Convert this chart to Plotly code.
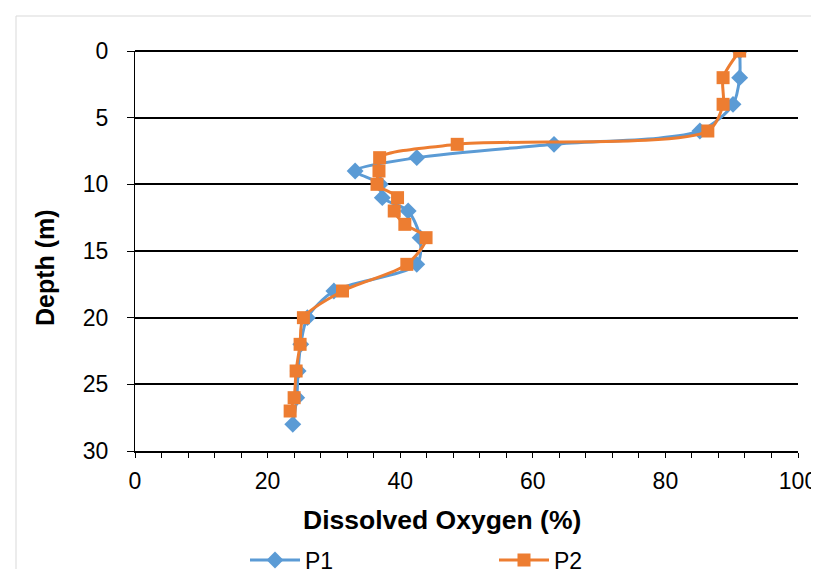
import plotly.graph_objects as go

# P1 profile
p1_depth = [0, 2, 4, 6, 7, 8, 9, 10, 11, 12, 14, 16, 18, 20, 22, 24, 26, 28]
p1_do = [91.2, 91.2, 90.2, 85.2, 63.2, 42.5, 33.2, 37.0, 37.3, 41.2, 43.0, 42.5, 30.0, 26.0, 25.0, 24.6, 24.4, 23.8]

# P2 profile
p2_depth = [0, 2, 4, 6, 7, 8, 9, 10, 11, 12, 13, 14, 16, 18, 20, 22, 24, 26, 27]
p2_do = [91.2, 88.7, 88.7, 86.4, 48.6, 36.9, 36.8, 36.5, 39.6, 39.1, 40.7, 43.9, 41.0, 31.3, 25.4, 24.9, 24.3, 24.0, 23.4]

x_ticks = [0, 20, 40, 60, 80, 100]
y_ticks = [0, 5, 10, 15, 20, 25, 30]

FONT = "Liberation Sans, Arial, sans-serif"

W, H = 811, 561
L, R, T, B = 127, 21, 43, 118
PW, PH = W - L - R, H - T - B


def px(xf):
    return (xf - L) / PW


def py(yf):
    return (T + PH - yf) / PH


fig = go.Figure()
fig.add_trace(go.Scatter(
    x=p1_do, y=p1_depth, name="P1", mode="lines+markers",
    line=dict(color="#5B9BD5", width=3, shape="spline", smoothing=0.8),
    marker=dict(symbol="diamond", size=13, color="#5B9BD5"),
))
fig.add_trace(go.Scatter(
    x=p2_do, y=p2_depth, name="P2", mode="lines+markers",
    line=dict(color="#ED7D31", width=3, shape="spline", smoothing=0.8),
    marker=dict(symbol="square", size=13, color="#ED7D31"),
))

fig.update_layout(
    width=W, height=H,
    margin=dict(l=L, r=R, t=T, b=B, autoexpand=False),
    paper_bgcolor="white", plot_bgcolor="white",
    font=dict(family=FONT, size=23, color="#000"),
    showlegend=True,
    legend=dict(
        orientation="h", x=px(237), xanchor="left", y=py(552), yanchor="middle",
        entrywidth=184, entrywidthmode="pixels", itemwidth=50,
        font=dict(size=23, color="#000"), bgcolor="rgba(0,0,0,0)",
    ),
    xaxis=dict(
        range=[0, 100], tickvals=x_ticks, ticktext=[str(v) for v in x_ticks],
        showgrid=False, zeroline=False,
        showline=True, linecolor="#000", linewidth=2,
        ticks="outside", ticklen=5, tickwidth=1, tickcolor="#000",
        minor=dict(dtick=4, ticks="outside", ticklen=5, tickwidth=1, tickcolor="#000", showgrid=False),
        tickfont=dict(size=23, family=FONT),
        ticklabelstandoff=3,
    ),
    yaxis=dict(
        range=[30, 0], tickvals=y_ticks, ticktext=[str(v) for v in y_ticks],
        showgrid=True, gridcolor="#000", gridwidth=2, zeroline=False,
        showline=True, linecolor="#000", linewidth=1,
        ticks="outside", ticklen=7, tickwidth=1, tickcolor="#000",
        tickfont=dict(size=23, family=FONT),
        ticklabelstandoff=14,
    ),
    shapes=[
        dict(type="rect", xref="paper", yref="paper",
             x0=px(8), x1=px(830), y0=py(580), y1=py(8),
             line=dict(color="#d9d9d9", width=1), fillcolor="rgba(0,0,0,0)", layer="below"),
        dict(type="line", xref="paper", yref="paper", x0=0, x1=1, y0=1, y1=1,
             line=dict(color="#000", width=2)),
    ],
    annotations=[
        dict(text="<b>Dissolved Oxygen (%)</b>", xref="paper", yref="paper",
             x=px(434), y=py(512), xanchor="center", yanchor="middle",
             showarrow=False, font=dict(size=26.5, family=FONT, color="#000")),
        dict(text="<b>Depth (m)</b>", xref="paper", yref="paper",
             x=px(37), y=py(260), xanchor="center", yanchor="middle",
             textangle=-90, showarrow=False, font=dict(size=25, family=FONT, color="#000")),
    ],
)

fig.write_html("out.html")
